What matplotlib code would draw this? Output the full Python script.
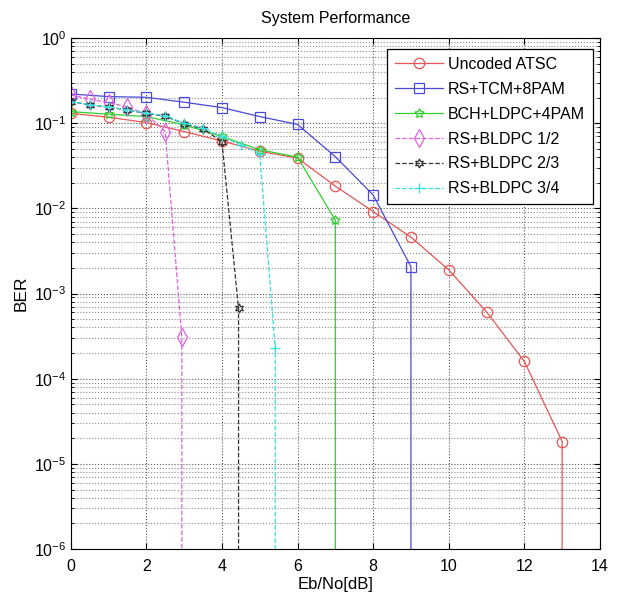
import numpy as np
import matplotlib.pyplot as plt
from matplotlib.ticker import NullFormatter

plt.rcParams['font.family'] = ['Liberation Sans', 'DejaVu Sans']

# Eb/No [dB] and BER
uncoded_x = [0, 1, 2, 3, 4, 5, 6, 7, 8, 9, 10, 11, 12, 13]
uncoded_y = [0.131, 0.118, 0.102, 0.080, 0.062, 0.047, 0.039, 0.0183,
             0.0092, 0.0046, 0.0019, 6.1e-4, 1.6e-4, 1.83e-5]

tcm_x = [0, 1, 2, 3, 4, 5, 6, 7, 8, 9]
tcm_y = [0.221, 0.206, 0.202, 0.177, 0.153, 0.120, 0.097, 0.0405, 0.0144, 0.00207]

bch_x = [0, 1, 2, 3, 4, 5, 6, 7]
bch_y = [0.137, 0.128, 0.120, 0.096, 0.070, 0.049, 0.040, 0.0073]

bldpc12_x = [0, 0.5, 1, 1.5, 2, 2.5, 2.94]
bldpc12_y = [0.215, 0.192, 0.175, 0.156, 0.128, 0.080, 3.07e-4]

bldpc23_x = [0, 0.5, 1, 1.5, 2, 2.5, 3, 3.5, 4, 4.44]
bldpc23_y = [0.180, 0.165, 0.155, 0.143, 0.131, 0.121, 0.099, 0.086, 0.061, 6.7e-4]

bldpc34_x = [0, 0.5, 1, 1.5, 2, 2.5, 3, 3.5, 4, 4.5, 5, 5.41]
bldpc34_y = [0.180, 0.166, 0.156, 0.144, 0.132, 0.123, 0.100, 0.088, 0.070,
             0.056, 0.044, 2.28e-4]

labels = ['Uncoded ATSC', 'RS+TCM+8PAM', 'BCH+LDPC+4PAM',
          'RS+BLDPC 1/2', 'RS+BLDPC 2/3', 'RS+BLDPC 3/4']
x_ticks = [0, 2, 4, 6, 8, 10, 12, 14]
y_decades = [-6, -5, -4, -3, -2, -1, 0]

# BER falls to zero after the last simulated point -> line runs off the bottom
ZERO_BER = 1e-12


def with_drop(x, y):
    return list(x) + [x[-1]], list(y) + [ZERO_BER]


fig = plt.figure(figsize=(6.23, 6.01), dpi=100)
ax = fig.add_axes([0.1135, 0.0865, 0.8495, 0.850])

series = [
    (uncoded_x, uncoded_y, dict(color='#e85555', ls='-', marker='o', ms=7.5)),
    (tcm_x, tcm_y, dict(color='#4a4ad6', ls='-', marker='s', ms=7.5)),
    (bch_x, bch_y, dict(color='#2fd02f', ls='-', marker=(5, 1, 0), ms=7)),
    (bldpc12_x, bldpc12_y, dict(color='#e060e0', ls='--', marker='d', ms=9)),
    (bldpc23_x, bldpc23_y, dict(color='#333333', ls='--', marker=(6, 1, 0), ms=6.5)),
    (bldpc34_x, bldpc34_y, dict(color='#35e0e0', ls='--', marker='+', ms=7)),
]

for (x, y, st), lab in zip(series, labels):
    xs, ys = with_drop(x, y)
    ax.semilogy(xs, ys, lw=0.9, mfc='none', mew=0.9, label=lab,
                markevery=list(range(len(x))), **st)

ax.set_xlim(0, 14)
ax.set_ylim(1e-6, 1)
ax.set_xticks(x_ticks)
major_y = [10.0 ** d for d in y_decades]
minor_y = [m * 10.0 ** d for d in y_decades[:-1] for m in range(2, 10)]
ax.set_yticks(major_y)
ax.set_yticks(minor_y, minor=True)
ax.yaxis.set_minor_formatter(NullFormatter())

ax.grid(True, which='major', ls=':', color='0.35', lw=0.8)
ax.grid(True, which='minor', axis='y', ls=':', color='0.55', lw=0.8)
ax.tick_params(which='both', direction='in', top=True, right=True, labelsize=11.5)
ax.tick_params(which='major', length=4)
ax.tick_params(which='minor', length=2)
ax.tick_params(axis='x', pad=7)
ax.tick_params(axis='y', pad=3)

ax.set_title('System Performance', fontsize=11.5, pad=11)
ax.set_xlabel('Eb/No[dB]', fontsize=12, labelpad=2)
ax.set_ylabel('BER', fontsize=12.5, labelpad=4)

leg = ax.legend(loc='upper right', bbox_to_anchor=(0.987, 0.979), fontsize=11.5,
                labelspacing=0.62, handlelength=3.0, handletextpad=0.3,
                borderpad=0.5, borderaxespad=0, fancybox=False, framealpha=1,
                edgecolor='k')
leg.get_frame().set_linewidth(0.9)

fig.savefig('out.png', dpi=100)
